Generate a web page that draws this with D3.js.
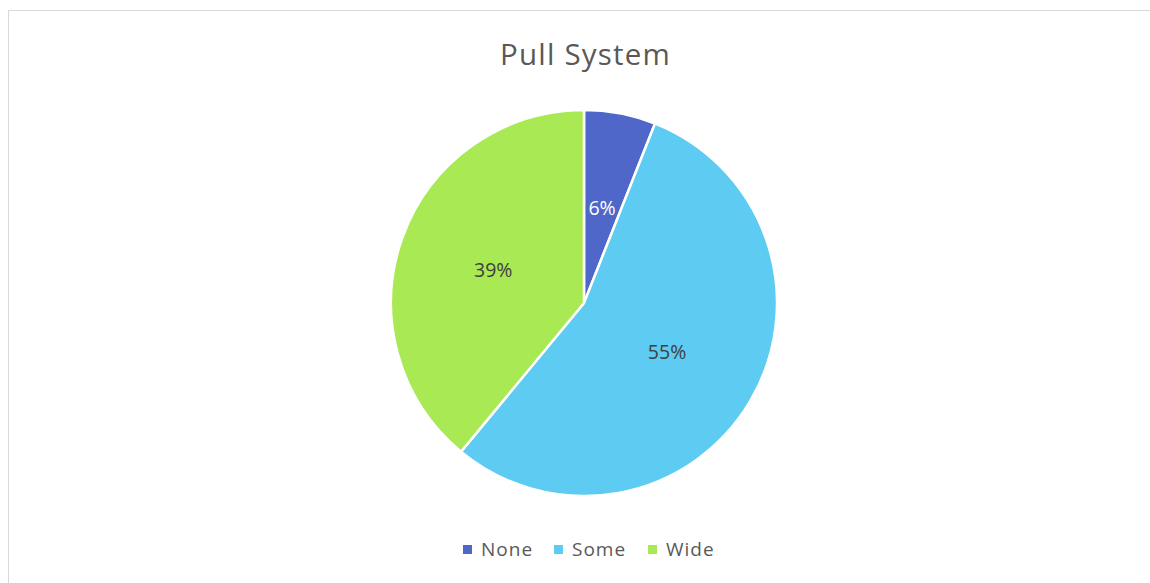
<!DOCTYPE html>
<html><head><meta charset="utf-8">
<script src="https://cdn.jsdelivr.net/npm/d3@7"></script>
<style>html,body{margin:0;padding:0;background:#fff;}svg{display:block;}</style>
</head><body>
<script>
const categories = ["None", "Some", "Wide"];
const values = [6, 55, 39];
const colors = ["#4F67C9", "#5DCBF2", "#A8E954"];
const labelColors = ["#FFFFFF", "#404040", "#404040"];
const title = "Pull System";

const W = 1150, H = 583;
const svg = d3.select("body").append("svg").attr("width", W).attr("height", H);
const font = "'Open Sans', sans-serif";

// chart border (top & left visible)
svg.append("rect").attr("x", 8.5).attr("y", 10.5).attr("width", W + 20).attr("height", H + 20)
  .attr("fill", "#fff").attr("stroke", "#D9D9D9").attr("stroke-width", 1);

svg.append("text").attr("x", 585.5).attr("y", 65).attr("text-anchor", "middle")
  .attr("font-family", font).attr("font-size", 29.5).attr("letter-spacing", 1.2)
  .attr("fill", "#595959").text(title);

const cx = 584, cy = 303, R = 193;
const data = categories.map((c, i) => ({cat: c, value: values[i], i}));
const pie = d3.pie().value(d => d.value).sort(null);
const arcs = pie(data);
const arc = d3.arc().innerRadius(0).outerRadius(R);
const g = svg.append("g").attr("transform", `translate(${cx},${cy})`);
g.selectAll("path").data(arcs).join("path")
  .attr("d", arc).attr("fill", d => colors[d.data.i])
  .attr("stroke", "#fff").attr("stroke-width", 2.5).attr("stroke-linejoin", "round");

const total = d3.sum(values);
const labelArc = d3.arc().innerRadius(R * 0.5).outerRadius(R * 0.5);
g.selectAll("text.lbl").data(arcs).join("text").attr("class", "lbl")
  .attr("transform", d => `translate(${labelArc.centroid(d)})`)
  .attr("text-anchor", "middle").attr("dy", "0.35em")
  .attr("font-family", font).attr("font-size", 19.5)
  .attr("fill", d => labelColors[d.data.i])
  .text(d => Math.round(d.data.value / total * 100) + "%");

// legend
const legendX = [463, 554, 648];
const lg = svg.append("g");
categories.forEach((c, i) => {
  lg.append("rect").attr("x", legendX[i]).attr("y", 545).attr("width", 9).attr("height", 9).attr("fill", colors[i]);
  lg.append("text").attr("x", legendX[i] + 18).attr("y", 549.5).attr("dy", "0.35em")
    .attr("font-family", font).attr("font-size", 19).attr("letter-spacing", 1)
    .attr("fill", "#595959").text(c);
});
</script>
</body></html>
